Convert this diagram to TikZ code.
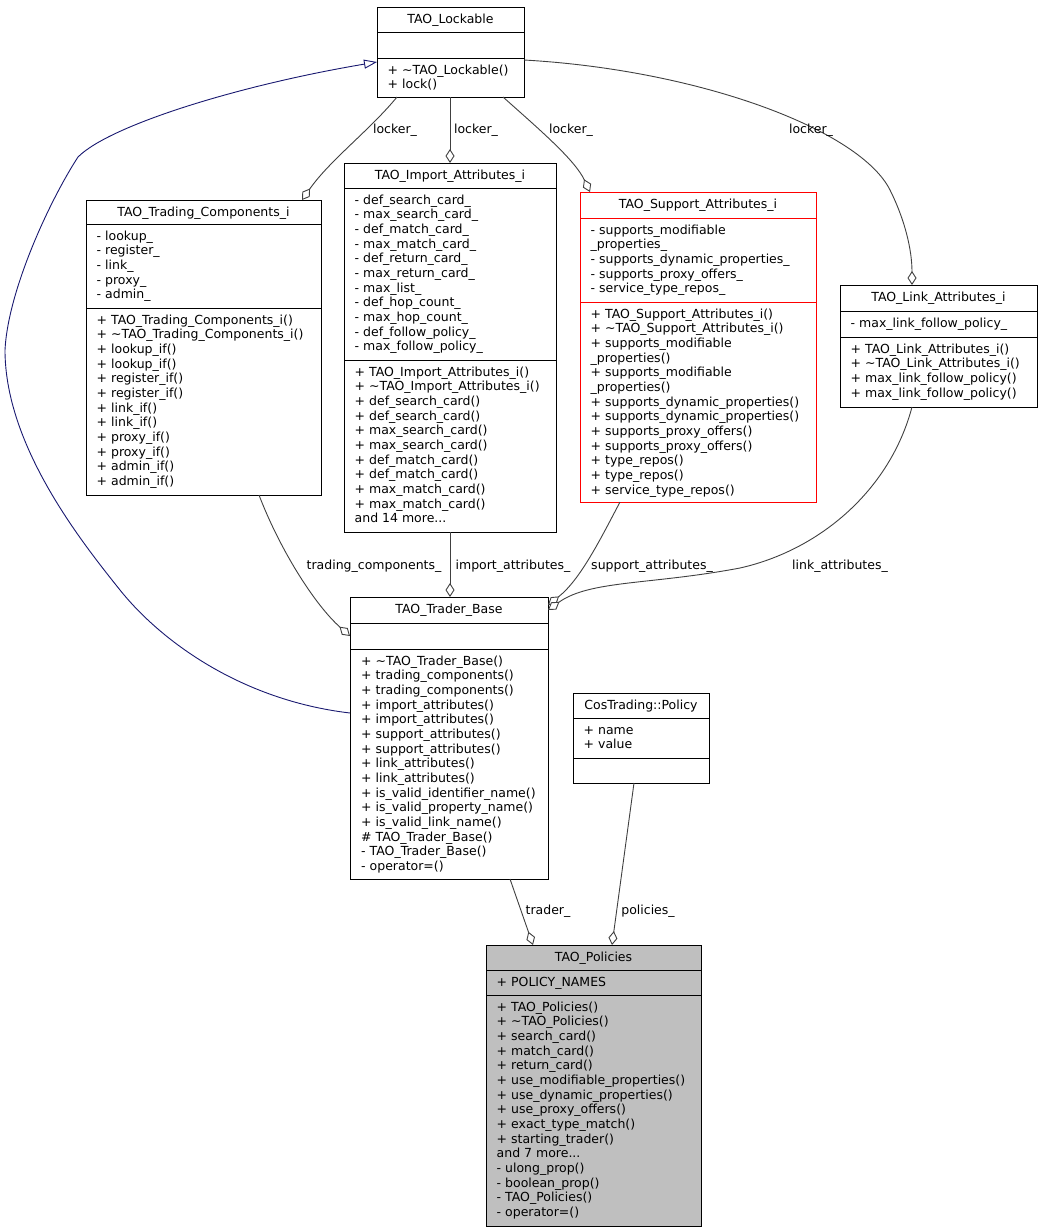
\documentclass[tikz,border=0pt]{standalone}
\usepackage{fontspec}
\setmainfont{DejaVu Sans}
\usetikzlibrary{arrows.meta}
\newcommand\fsz{\fontsize{12.5}{14.67}\selectfont}
\newcommand\tildech{\textasciitilde}
\definecolor{edgegray}{HTML}{404040}
\definecolor{inhblue}{HTML}{191970}
\definecolor{polfill}{HTML}{BFBFBF}
\begin{document}
\begin{tikzpicture}[x=1pt,y=-1pt,
  box/.style={draw=black, line width=1pt, inner sep=0pt, outer sep=0pt, anchor=north west},
  sepline/.style={draw=black, line width=1pt},
  ttl/.style={anchor=north, inner sep=0pt, font=\fsz},
  sec/.style={anchor=north west, inner sep=0pt, align=left, font=\fsz},
  assoc/.style={draw=edgegray, line width=0.9pt, -{Diamond[fill=white, length=14pt, width=9pt]}},
  lbl/.style={font=\fsz, inner sep=0pt, anchor=base},
  inh/.style={draw=inhblue, line width=0.9pt, -{Triangle[fill=white, length=13pt, width=9pt]}}
]
\useasboundingbox (0,0) rectangle (1041,1232);

% ---------------- TAO_Lockable
\node[box, minimum width=147pt, minimum height=90pt] (lock) at (377,7) {};
\draw[sepline] (lock.west |- 0,32) -- (lock.east |- 0,32);
\draw[sepline] (lock.west |- 0,58) -- (lock.east |- 0,58);
\node[ttl] (lockT) at (450.5,12.7) {\strut TAO\_Lockable};
\node[sec] (lockM) at (387.5,63.7) {\strut + \tildech TAO\_Lockable()\\+ lock()};

% ---------------- TAO_Trading_Components_i
\node[box, minimum width=235pt, minimum height=295pt] (trading) at (86,200) {};
\draw[sepline] (trading.west |- 0,224) -- (trading.east |- 0,224);
\draw[sepline] (trading.west |- 0,308) -- (trading.east |- 0,308);
\node[ttl] (tradingT) at (203.5,205.7) {\strut TAO\_Trading\_Components\_i};
\node[sec] (tradingA) at (96.5,229.7) {\strut - lookup\_\\- register\_\\- link\_\\- proxy\_\\- admin\_};
\node[sec] (tradingM) at (96.5,313.7) {\strut + TAO\_Trading\_Components\_i()\\+ \tildech TAO\_Trading\_Components\_i()\\+ lookup\_if()\\+ lookup\_if()\\+ register\_if()\\+ register\_if()\\+ link\_if()\\+ link\_if()\\+ proxy\_if()\\+ proxy\_if()\\+ admin\_if()\\+ admin\_if()};

% ---------------- TAO_Import_Attributes_i
\node[box, minimum width=212pt, minimum height=369pt] (import) at (344,163) {};
\draw[sepline] (import.west |- 0,188) -- (import.east |- 0,188);
\draw[sepline] (import.west |- 0,360) -- (import.east |- 0,360);
\node[ttl] (importT) at (450,168.7) {\strut TAO\_Import\_Attributes\_i};
\node[sec] (importA) at (354.5,193.7) {\strut - def\_search\_card\_\\- max\_search\_card\_\\- def\_match\_card\_\\- max\_match\_card\_\\- def\_return\_card\_\\- max\_return\_card\_\\- max\_list\_\\- def\_hop\_count\_\\- max\_hop\_count\_\\- def\_follow\_policy\_\\- max\_follow\_policy\_};
\node[sec] (importM) at (354.5,365.7) {\strut + TAO\_Import\_Attributes\_i()\\+ \tildech TAO\_Import\_Attributes\_i()\\+ def\_search\_card()\\+ def\_search\_card()\\+ max\_search\_card()\\+ max\_search\_card()\\+ def\_match\_card()\\+ def\_match\_card()\\+ max\_match\_card()\\+ max\_match\_card()\\and 14 more...};

% ---------------- TAO_Support_Attributes_i
\node[box, draw=red, minimum width=236pt, minimum height=310pt] (support) at (580,192) {};
\draw[sepline, draw=red] (support.west |- 0,218) -- (support.east |- 0,218);
\draw[sepline, draw=red] (support.west |- 0,302) -- (support.east |- 0,302);
\node[ttl] (supportT) at (698,197.7) {\strut TAO\_Support\_Attributes\_i};
\node[sec] (supportA) at (590.5,223.7) {\strut - supports\_modifiable\\\_properties\_\\- supports\_dynamic\_properties\_\\- supports\_proxy\_offers\_\\- service\_type\_repos\_};
\node[sec] (supportM) at (590.5,307.7) {\strut + TAO\_Support\_Attributes\_i()\\+ \tildech TAO\_Support\_Attributes\_i()\\+ supports\_modifiable\\\_properties()\\+ supports\_modifiable\\\_properties()\\+ supports\_dynamic\_properties()\\+ supports\_dynamic\_properties()\\+ supports\_proxy\_offers()\\+ supports\_proxy\_offers()\\+ type\_repos()\\+ type\_repos()\\+ service\_type\_repos()};

% ---------------- TAO_Link_Attributes_i
\node[box, minimum width=197pt, minimum height=122pt] (link) at (840,285) {};
\draw[sepline] (link.west |- 0,311) -- (link.east |- 0,311);
\draw[sepline] (link.west |- 0,337) -- (link.east |- 0,337);
\node[ttl] (linkT) at (938.5,290.7) {\strut TAO\_Link\_Attributes\_i};
\node[sec] (linkA) at (850.5,316.7) {\strut - max\_link\_follow\_policy\_};
\node[sec] (linkM) at (850.5,342.7) {\strut + TAO\_Link\_Attributes\_i()\\+ \tildech TAO\_Link\_Attributes\_i()\\+ max\_link\_follow\_policy()\\+ max\_link\_follow\_policy()};

% ---------------- TAO_Trader_Base
\node[box, minimum width=198pt, minimum height=282pt] (trader) at (350,597) {};
\draw[sepline] (trader.west |- 0,623) -- (trader.east |- 0,623);
\draw[sepline] (trader.west |- 0,649) -- (trader.east |- 0,649);
\node[ttl] (traderT) at (449,602.7) {\strut TAO\_Trader\_Base};
\node[sec] (traderM) at (361,654.7) {\strut + \tildech TAO\_Trader\_Base()\\+ trading\_components()\\+ trading\_components()\\+ import\_attributes()\\+ import\_attributes()\\+ support\_attributes()\\+ support\_attributes()\\+ link\_attributes()\\+ link\_attributes()\\+ is\_valid\_identifier\_name()\\+ is\_valid\_property\_name()\\+ is\_valid\_link\_name()\\\# TAO\_Trader\_Base()\\- TAO\_Trader\_Base()\\- operator=()};

% ---------------- CosTrading::Policy
\node[box, minimum width=136pt, minimum height=90pt] (cospol) at (573,693) {};
\draw[sepline] (cospol.west |- 0,718) -- (cospol.east |- 0,718);
\draw[sepline] (cospol.west |- 0,758) -- (cospol.east |- 0,758);
\node[ttl] (cospolT) at (641,698.7) {\strut CosTrading::Policy};
\node[sec] (cospolA) at (583.5,723.7) {\strut + name\\+ value};

% ---------------- TAO_Policies
\node[box, fill=polfill, minimum width=215pt, minimum height=281pt] (policies) at (486,945) {};
\draw[sepline] (policies.west |- 0,970) -- (policies.east |- 0,970);
\draw[sepline] (policies.west |- 0,995) -- (policies.east |- 0,995);
\node[ttl] (policiesT) at (593.5,950.7) {\strut TAO\_Policies};
\node[sec] (policiesA) at (496.5,975.7) {\strut + POLICY\_NAMES};
\node[sec] (policiesM) at (496.5,1000.7) {\strut + TAO\_Policies()\\+ \tildech TAO\_Policies()\\+ search\_card()\\+ match\_card()\\+ return\_card()\\+ use\_modifiable\_properties()\\+ use\_dynamic\_properties()\\+ use\_proxy\_offers()\\+ exact\_type\_match()\\+ starting\_trader()\\and 7 more...\\- ulong\_prop()\\- boolean\_prop()\\- TAO\_Policies()\\- operator=()};

% ---------------- inheritance
\draw[inh] (trader.west |- 0,713) .. controls (240,700) and (160,640) .. (120,590)
  .. controls (80,540) and (5,445) .. (5,350)
  .. controls (8,290) and (50,200) .. (78,157)
  .. controls (110,125) and (240,85) .. (lock.west |- 0,62);

% ---------------- associations
\draw[assoc] (lock.south -| 397,0) .. controls (370,130) and (330,160) .. (trading.north -| 302,0);
\draw[assoc] (lock.south -| 450,0) -- (import.north -| 450,0);
\draw[assoc] (lock.south -| 503,0) .. controls (540,130) and (575,160) .. (support.north -| 590,0);
\draw[assoc] (lock.east |- 0,60) .. controls (700,70) and (860,130) .. (890,190)
  .. controls (905,220) and (912,250) .. (link.north -| 912,0);
\draw[assoc] (trading.south -| 259,0) .. controls (280,550) and (315,605) .. (trader.west |- 0,636);
\draw[assoc] (import.south -| 450,0) -- (trader.north -| 450,0);
\draw[assoc] (support.south -| 620,0) .. controls (600,540) and (580,580) .. (trader.east |- 0,605);
\draw[assoc] (link.south -| 912,0) .. controls (890,490) and (820,550) .. (740,568)
  .. controls (650,585) and (590,580) .. (trader.east |- 0,610);
\draw[assoc] (trader.south -| 510,0) -- (policies.north -| 533,0);
\draw[assoc] (cospol.south -| 634,0) -- (policies.north -| 612,0);

% ---------------- labels
\node[lbl] (l1) at (395,133) {locker\_};
\node[lbl] (l2) at (476,133) {locker\_};
\node[lbl] (l3) at (571,133) {locker\_};
\node[lbl] (l4) at (811,133) {locker\_};
\node[lbl] (l5) at (374,569) {trading\_components\_};
\node[lbl] (l6) at (513,569) {import\_attributes\_};
\node[lbl] (l7) at (652,569) {support\_attributes\_};
\node[lbl] (l8) at (840,569) {link\_attributes\_};
\node[lbl] (l9) at (548,914) {trader\_};
\node[lbl] (l10) at (648,914) {policies\_};
\end{tikzpicture}
\end{document}
